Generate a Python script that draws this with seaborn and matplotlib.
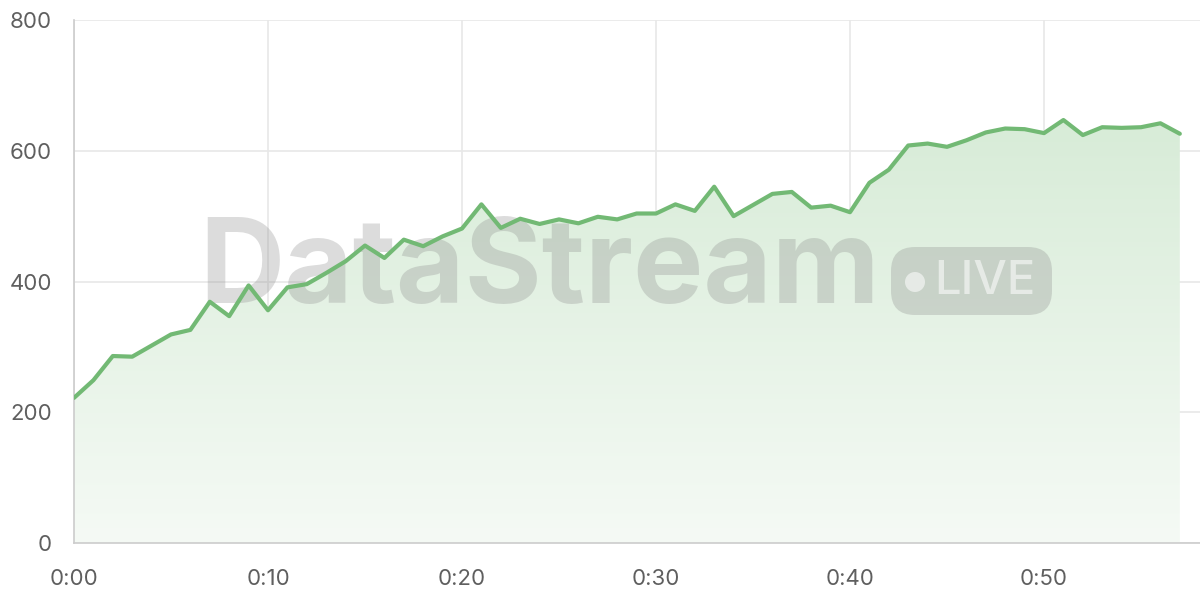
import numpy as np
import pandas as pd
import seaborn as sns
import matplotlib.pyplot as plt
from matplotlib.patches import FancyBboxPatch, Circle
from matplotlib.colors import LinearSegmentedColormap

# one reading per minute, 0:00 .. 0:57
minutes = list(range(58))
values = [222, 249, 286, 285, 302, 319, 326, 369, 347, 394,
          356, 391, 396, 413, 431, 455, 436, 464, 454, 469,
          481, 518, 482, 496, 488, 495, 489, 499, 495, 504,
          504, 518, 508, 545, 500, 517, 534, 537, 513, 516,
          506, 551, 571, 608, 611, 606, 616, 628, 634, 633,
          627, 647, 624, 636, 635, 636, 642, 626]
y_ticks = [0, 200, 400, 600, 800]
x_ticks = [0, 10, 20, 30, 40, 50]
x_labels = ["0:00", "0:10", "0:20", "0:30", "0:40", "0:50"]

df = pd.DataFrame({"minute": minutes, "value": values})

sns.set_style("white")
plt.rcParams['font.family'] = ['Inter', 'DejaVu Sans']

line_color = '#72b974'
grid_color = '#e8e8e8'
text_color = '#5f5f5f'

fig = plt.figure(figsize=(12, 6), dpi=100)
# helper axes giving a pixel coordinate system (origin top-left) for the watermark
px = fig.add_axes([0, 0, 1, 1])
px.set_xlim(0, 1200)
px.set_ylim(600, 0)
px.axis('off')

ax = fig.add_axes([74 / 1200, 57 / 600, 1126 / 1200, 523 / 600])
ax.set_xlim(0, 58.04)
ax.set_ylim(0, 800)

# gradient fill under the line
cmap = LinearSegmentedColormap.from_list("fill", ["#f5faf5", "#d6ebd6"])
grad = np.linspace(0, 1, 256).reshape(-1, 1)
img = ax.imshow(grad, cmap=cmap, aspect='auto', origin='lower',
                extent=[0, max(minutes), 0, 680], zorder=1)
poly = ax.fill_between(df["minute"], df["value"], 0, color='none', lw=0)
img.set_clip_path(poly.get_paths()[0], transform=ax.transData)

sns.lineplot(data=df, x="minute", y="value", ax=ax, color=line_color,
             linewidth=3, zorder=3)

# watermark, sits between the fill and the line
ax.text(540, 272, "DataStream", transform=px.transData, fontsize=85,
        fontweight='bold', color='#8c8c8c', alpha=0.3, ha='center',
        va='center', zorder=2, clip_on=False)
ax.add_patch(FancyBboxPatch((891, 247), 161, 68,
                            boxstyle="round,pad=0,rounding_size=24",
                            transform=px.transData, facecolor='#8c8c8c',
                            edgecolor='none', alpha=0.3, zorder=2, clip_on=False))
ax.add_patch(Circle((915, 282), 10, transform=px.transData, facecolor='white',
                    edgecolor='none', alpha=0.55, zorder=2, clip_on=False))
ax.text(985, 282, "LIVE", transform=px.transData, fontsize=34, color='white',
        alpha=0.55, ha='center', va='center', fontweight='medium', zorder=2,
        clip_on=False)

ax.set_xticks(x_ticks)
ax.set_xticklabels(x_labels)
ax.set_yticks(y_ticks)
ax.grid(True, color=grid_color, linewidth=1.2, zorder=0)
ax.set_axisbelow(True)
ax.tick_params(axis='both', colors=grid_color, labelcolor=text_color,
               labelsize=16, length=11, width=1.2, pad=5)
ax.tick_params(axis='x', pad=8)
for side in ['top', 'right']:
    ax.spines[side].set_visible(False)
for side in ['left', 'bottom']:
    ax.spines[side].set_color('#cccccc')
    ax.spines[side].set_linewidth(1.2)
ax.set_xlabel("")
ax.set_ylabel("")

plt.savefig("out.png", dpi=100)
